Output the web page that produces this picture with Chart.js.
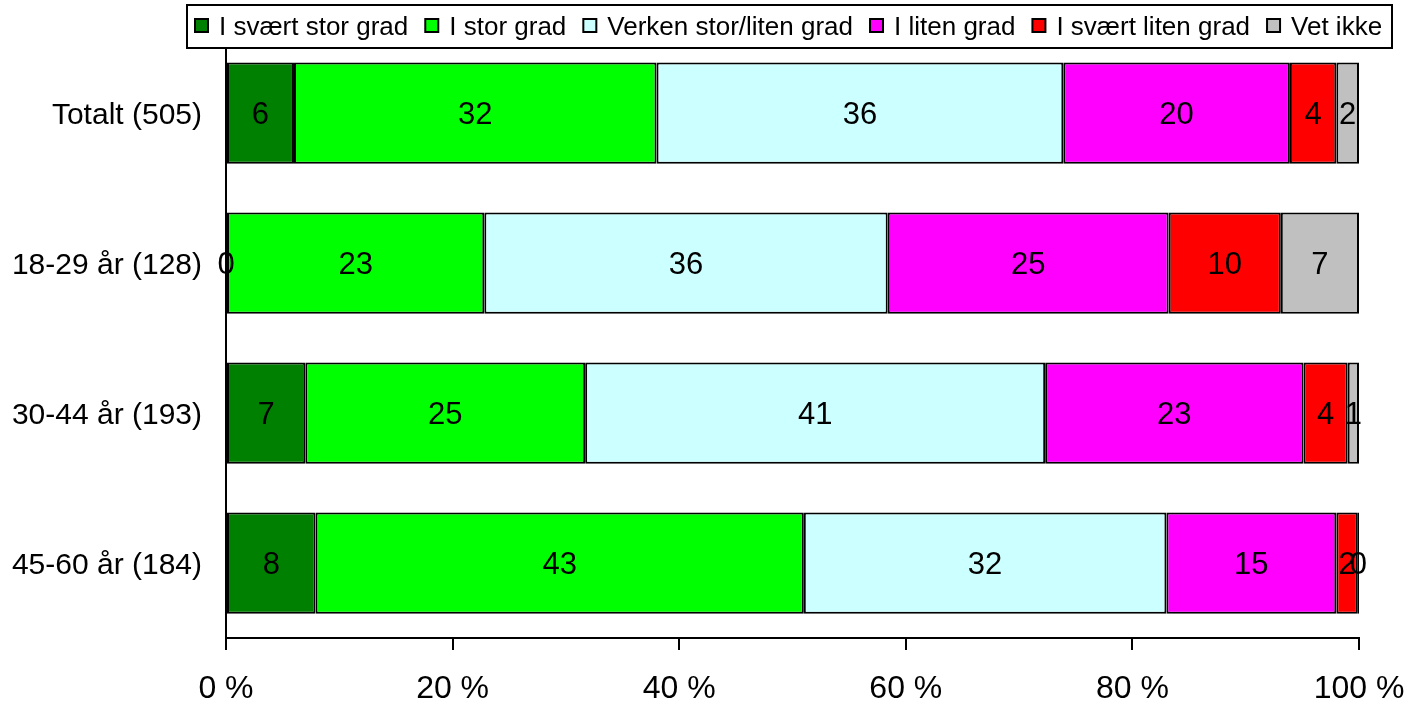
<!DOCTYPE html>
<html>
<head>
<meta charset="utf-8">
<script src="https://cdn.jsdelivr.net/npm/chart.js@4"></script>
<style>
html, body { margin: 0; padding: 0; background: #fff; }
</style>
</head>
<body>
<canvas id="chart" width="1426" height="706"></canvas>
<script>
var groups = ['Totalt (505)', '18-29 år (128)', '30-44 år (193)', '45-60 år (184)'];
var series = ['I svært stor grad', 'I stor grad', 'Verken stor/liten grad', 'I liten grad', 'I svært liten grad', 'Vet ikke'];

// percentages per group
var svaertStor  = [6.0, 0.0, 7.0, 7.9];
var stor        = [32.0, 22.8, 24.7, 43.1];
var verken      = [35.9, 35.6, 40.6, 32.0];
var liten       = [20.0, 24.8, 22.8, 15.0];
var svaertLiten = [4.1, 9.9, 3.9, 1.9];
var vetIkke     = [2.0, 6.9, 1.0, 0.1];

var colors = ['#008000', '#00ff00', '#ccffff', '#ff00ff', '#ff0000', '#c0c0c0'];
var xTicks = [0, 20, 40, 60, 80, 100];

var FONT = '"Liberation Sans", Arial, sans-serif';
var allValues = [svaertStor, stor, verken, liten, svaertLiten, vetIkke];

var datasets = [];
for (var i = 0; i < series.length; i++) {
	datasets.push({
		label: series[i],
		data: allValues[i],
		backgroundColor: colors[i],
		borderColor: '#000',
		borderWidth: 2,
		borderSkipped: false,
		barPercentage: 0.675,
		categoryPercentage: 1
	});
}

// numbers in the middle of every segment
var valueLabels = {
	id: 'valueLabels',
	afterDatasetsDraw: function(chart) {
		var ctx = chart.ctx;
		ctx.save();
		ctx.font = '31px ' + FONT;
		ctx.fillStyle = '#000';
		ctx.textAlign = 'center';
		ctx.textBaseline = 'middle';
		chart.data.datasets.forEach(function(ds, di) {
			var meta = chart.getDatasetMeta(di);
			meta.data.forEach(function(el, j) {
				var x = (el.x + el.base) / 2;
				ctx.fillText(String(Math.round(ds.data[j])), x, el.y + 2);
			});
		});
		ctx.restore();
	}
};

// boxed legend on one line at the top
var boxLegend = {
	id: 'boxLegend',
	afterDraw: function(chart) {
		var ctx = chart.ctx;
		ctx.save();
		ctx.font = '26px ' + FONT;
		var left = 187, top = 5, right = 1392, bottom = 48;
		ctx.fillStyle = '#fff';
		ctx.fillRect(left, top, right - left, bottom - top);
		ctx.strokeStyle = '#000';
		ctx.lineWidth = 2;
		ctx.strokeRect(left, top, right - left, bottom - top);
		var x = 195;
		ctx.textBaseline = 'middle';
		ctx.textAlign = 'left';
		for (var i = 0; i < series.length; i++) {
			ctx.fillStyle = colors[i];
			ctx.fillRect(x, 19, 13, 13);
			ctx.lineWidth = 2;
			ctx.strokeRect(x, 19, 13, 13);
			ctx.fillStyle = '#000';
			ctx.fillText(series[i], x + 24, 28);
			x += 24 + ctx.measureText(series[i]).width + 17;
		}
		ctx.restore();
	}
};

var chart = new Chart(document.getElementById('chart'), {
	type: 'bar',
	data: { labels: groups, datasets: datasets },
	plugins: [valueLabels, boxLegend],
	options: {
		indexAxis: 'y',
		responsive: false,
		animation: false,
		devicePixelRatio: 1,
		layout: { padding: { top: 38, right: 67, left: 0, bottom: 0 } },
		plugins: { legend: { display: false }, tooltip: { enabled: false } },
		scales: {
			x: {
				stacked: true,
				min: 0,
				max: 100,
				afterBuildTicks: function(scale) {
					scale.ticks = xTicks.map(function(v) { return { value: v }; });
				},
				afterFit: function(scale) { scale.height = 68; },
				grid: { display: true, drawOnChartArea: false, drawTicks: true, tickLength: 12, color: '#000', lineWidth: 2 },
				border: { display: true, color: '#000', width: 2 },
				ticks: {
					padding: 20,
					color: '#000',
					font: { family: FONT, size: 32 },
					maxRotation: 0,
					callback: function(v) { return v + ' %'; }
				}
			},
			y: {
				stacked: true,
				afterFit: function(scale) {
					scale.width = 226;
					scale.paddingTop = 0;
					scale.paddingBottom = 0;
				},
				grid: { display: true, drawOnChartArea: false, drawTicks: false },
				border: { display: true, color: '#000', width: 2 },
				ticks: {
					padding: 24,
					labelOffset: 3,
					color: '#000',
					font: { family: FONT, size: 30 }
				}
			}
		}
	}
});
</script>
</body>
</html>
